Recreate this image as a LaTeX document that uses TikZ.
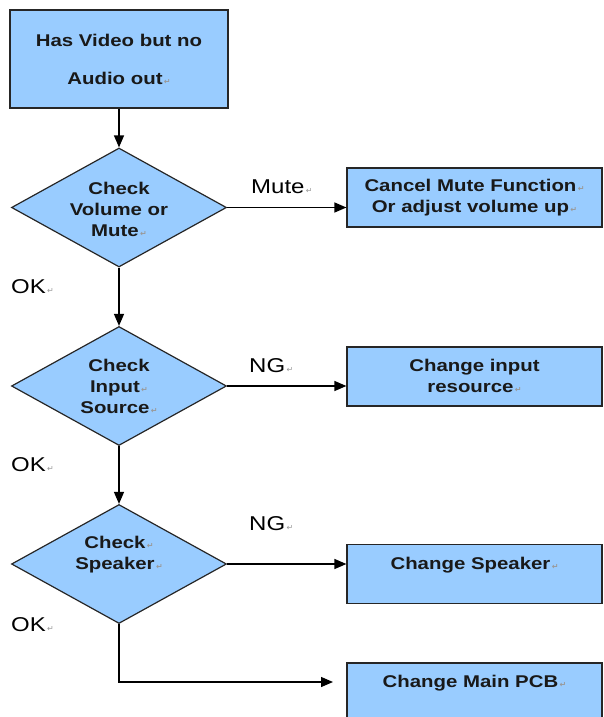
\documentclass[tikz,border=0pt]{standalone}
\usepackage{fontspec}
\setmainfont{Liberation Sans}
\newfontfamily\wfont[FakeStretch=1.2]{Liberation Sans}
\newfontfamily\markfont{DejaVu Sans}
\usetikzlibrary{shapes.geometric,arrows.meta}
\definecolor{boxblue}{RGB}{153,204,255}
\newcommand\pmk{{\markfont\fontsize{8}{8}\selectfont\color{black!40}\,↵}}
\begin{document}
\begin{tikzpicture}[x=1pt,y=-1pt,
  boxstyle/.style={draw=black!85, fill=boxblue, line width=1.2pt, inner sep=0pt, minimum width=255pt, minimum height=59pt},
  diastyle/.style={diamond, draw=black!85, fill=boxblue, line width=1.2pt, inner sep=0pt, minimum width=215pt, minimum height=119pt},
  txt/.style={font=\wfont\bfseries\fontsize{17}{21}\selectfont, align=center, inner sep=0pt, text=black!90},
  lab/.style={font=\wfont\fontsize{20}{24}\selectfont, anchor=west, inner sep=0pt},
  arr/.style={line width=1.3pt, -{Triangle[length=12pt,width=10pt]}},
  ln/.style={line width=1.3pt}]
\useasboundingbox (0,0) rectangle (603,717);
% shapes
\node[boxstyle, minimum width=218pt, minimum height=98pt] (start) at (119,59) {};
\node[diastyle] (d1) at (119,207.5) {};
\node[diastyle] (d2) at (119,386) {};
\node[diastyle] (d3) at (119,564) {};
\node[boxstyle] (b1) at (474.5,197.5) {};
\node[boxstyle] (b2) at (474.5,376.5) {};
\node[boxstyle] (b3) at (474.5,574) {};
\node[boxstyle] (b4) at (474.5,692.5) {};
% texts
\node[txt, font=\wfont\bfseries\fontsize{17}{38}\selectfont] (tstart) at (119,59) {Has Video but no\\Audio out\pmk};
\node[txt] (td1) at (119,209) {Check\\Volume or\\Mute\pmk};
\node[txt] (td2) at (119,386) {Check\\Input\pmk\\Source\pmk};
\node[txt] (td3) at (119,555) {Check\pmk\\Speaker\pmk};
\node[txt] (tb1) at (474.5,197.5) {Cancel Mute Function\pmk\\Or adjust volume up\pmk};
\node[txt] (tb2) at (474.5,376) {Change input\\resource\pmk};
\node[txt] (tb3) at (474.5,565) {Change Speaker\pmk};
\node[txt] (tb4) at (474.5,683) {Change Main PCB\pmk};
% labels
\node[lab] (lmute) at (251,187) {Mute\pmk};
\node[lab] (lok1) at (11,287) {OK\pmk};
\node[lab] (lng1) at (249,366) {NG\pmk};
\node[lab] (lok2) at (11,465) {OK\pmk};
\node[lab] (lng2) at (249,524) {NG\pmk};
\node[lab] (lok3) at (11,625) {OK\pmk};
% connectors
\coordinate (pcbend) at (333,682);
\draw[arr] (start.south) -- (d1.north);
\draw[arr] (d1.east) -- (d1.east -| b1.west);
\draw[arr] (d1.south) -- (d2.north);
\draw[arr] (d2.east) -- (d2.east -| b2.west);
\draw[arr] (d2.south) -- (d3.north);
\draw[arr] (d3.east) -- (d3.east -| b3.west);
\draw[arr] (d3.south) |- (pcbend);
\end{tikzpicture}
\end{document}
